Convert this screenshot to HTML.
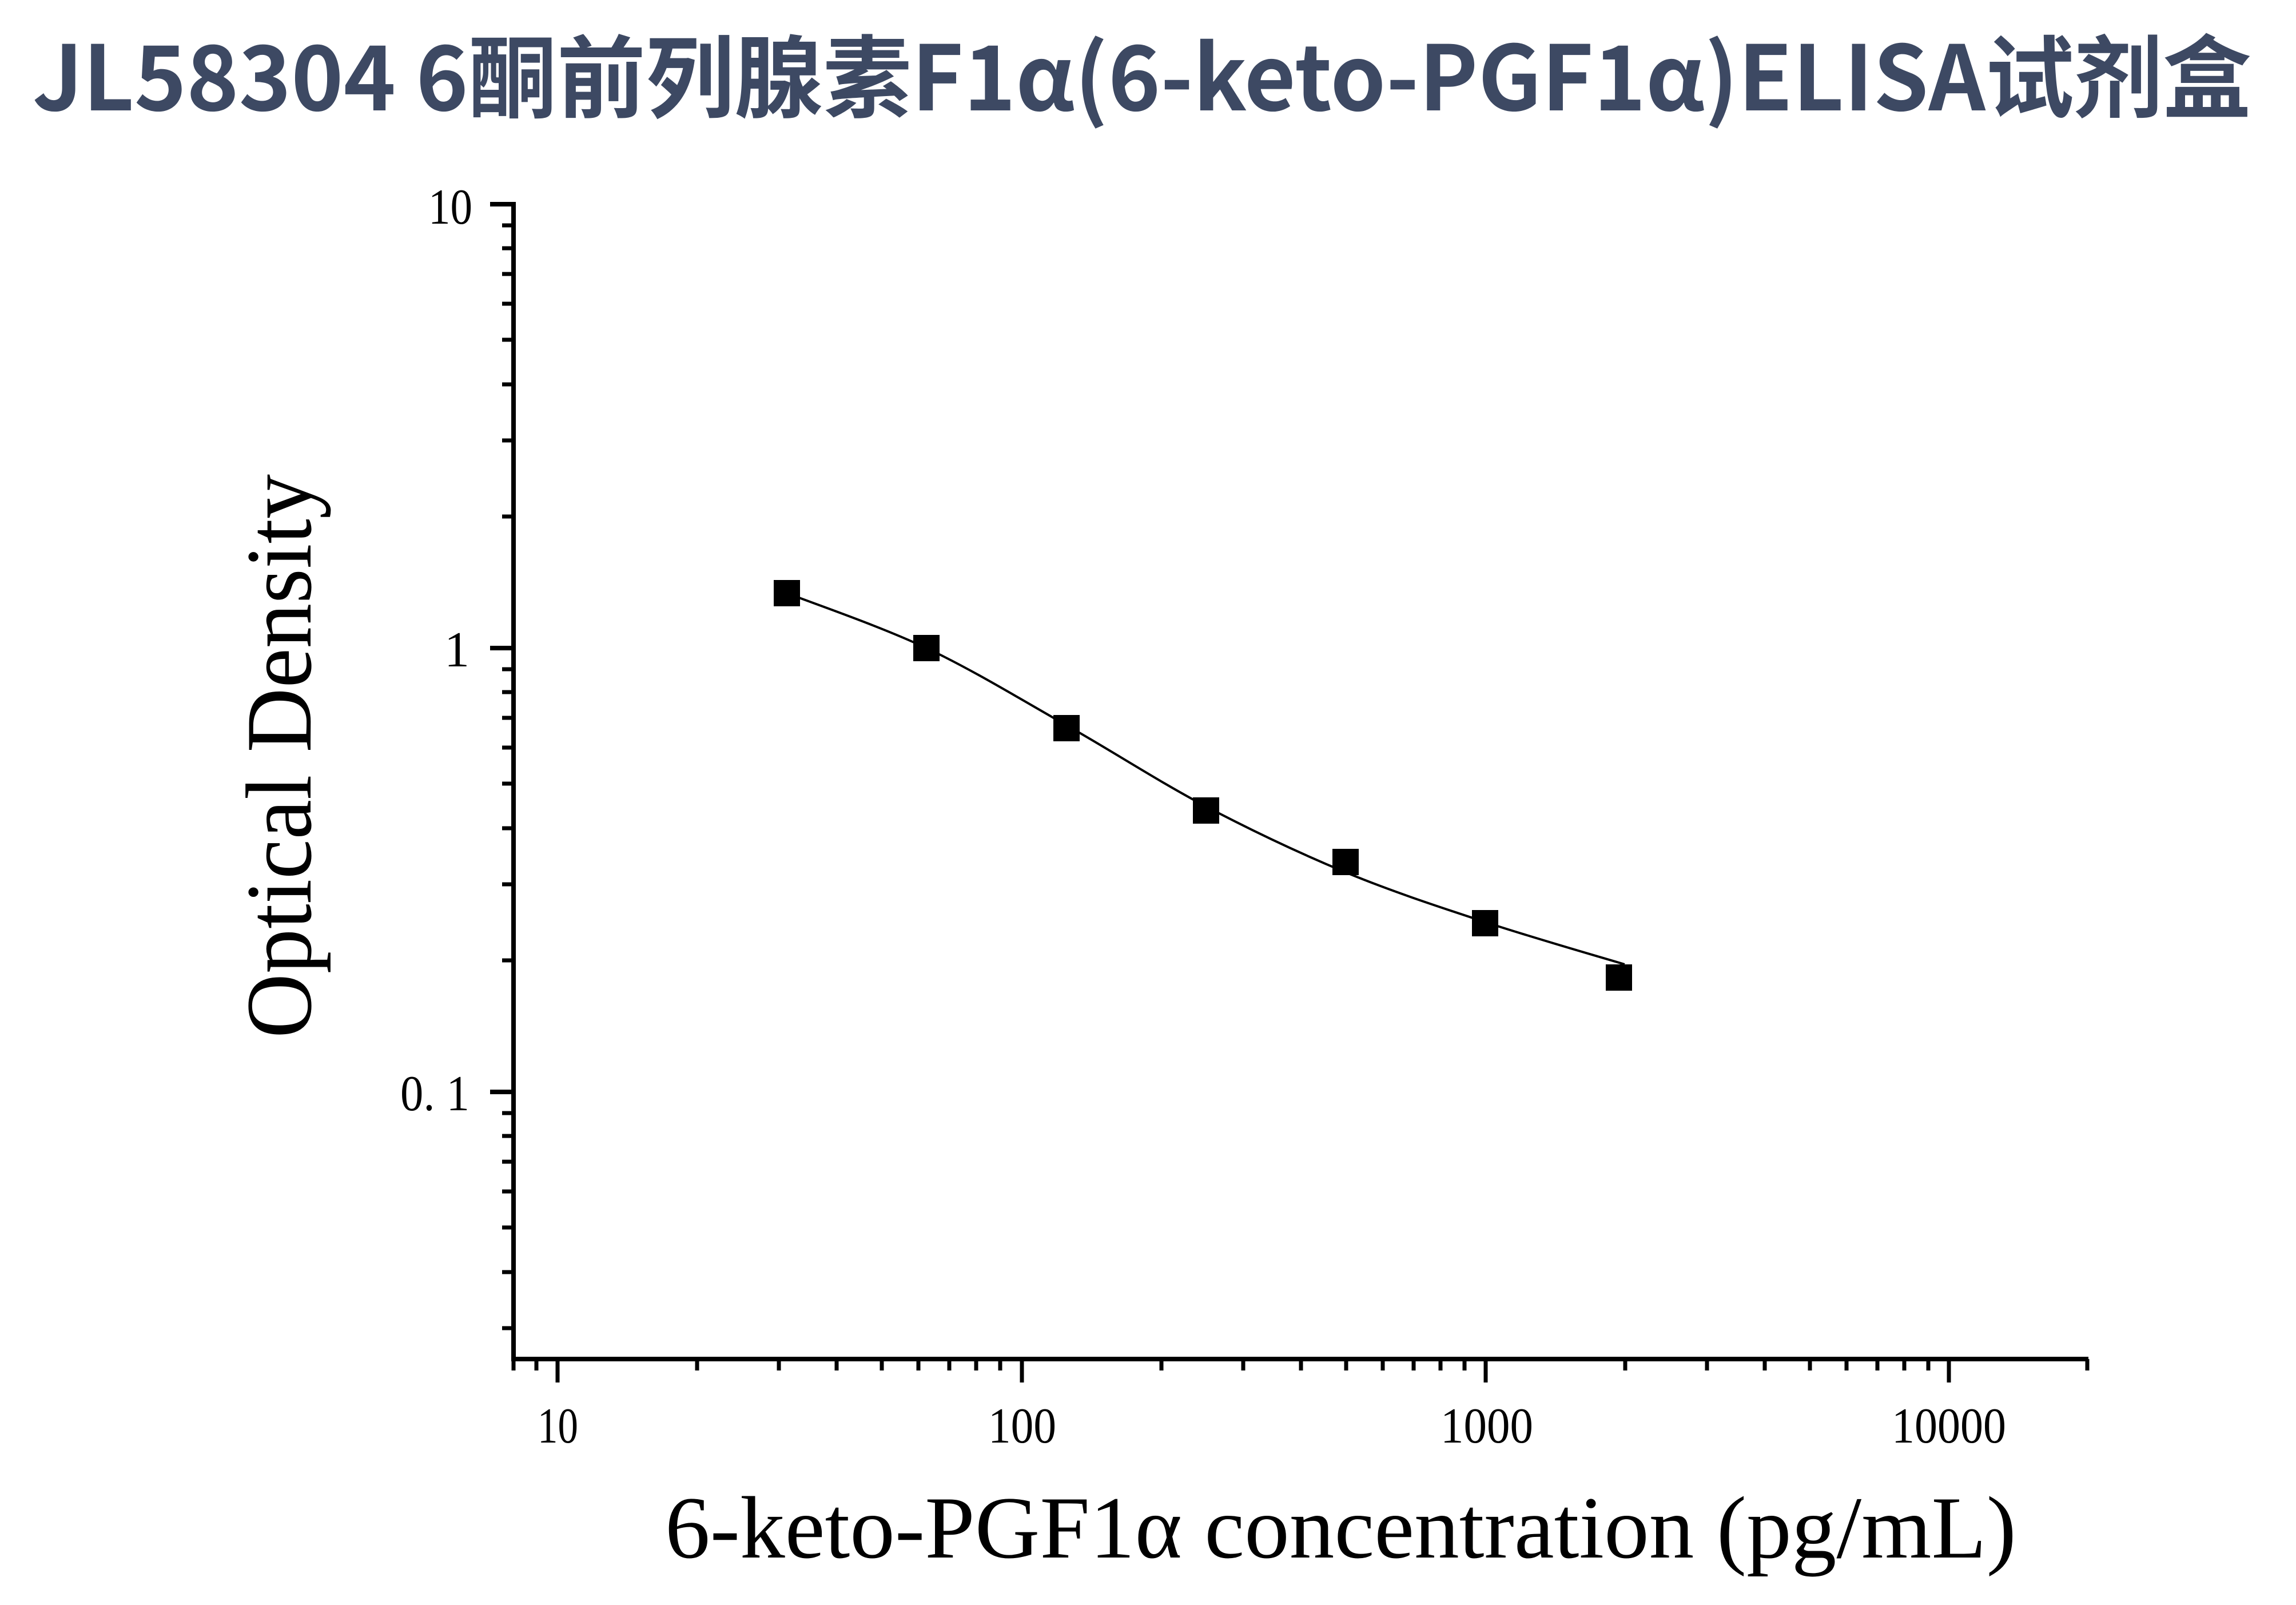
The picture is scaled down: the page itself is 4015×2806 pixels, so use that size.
<!DOCTYPE html>
<html><head><meta charset="utf-8"><style>html,body{margin:0;padding:0;background:#fff}svg{display:block}</style></head>
<body>
<svg width="4015" height="2806" viewBox="0 0 4015 2806" xmlns="http://www.w3.org/2000/svg">
<rect width="4015" height="2806" fill="#fff"/>
<text x="57" y="193" font-family="'Noto Sans CJK SC', 'Liberation Sans', sans-serif" font-weight="bold" font-size="157" fill="#3d4963" textLength="3880" lengthAdjust="spacingAndGlyphs">JL58304 6酮前列腺素F1α(6-keto-PGF1α)ELISA试剂盒</text>
<g stroke="#000" fill="none">
<line x1="898" y1="353" x2="898" y2="2380" stroke-width="8"/>
<line x1="894" y1="2376" x2="3652" y2="2376" stroke-width="8"/>
<g stroke-width="8">
<line x1="857" y1="357" x2="898" y2="357"/>
<line x1="857" y1="1133" x2="898" y2="1133"/>
<line x1="857" y1="1909" x2="898" y2="1909"/>
</g>
<g stroke-width="7">
<line x1="878" y1="394" x2="898" y2="394"/><line x1="878" y1="434" x2="898" y2="434"/><line x1="878" y1="479" x2="898" y2="479"/><line x1="878" y1="531" x2="898" y2="531"/><line x1="878" y1="594" x2="898" y2="594"/><line x1="878" y1="672" x2="898" y2="672"/><line x1="878" y1="770" x2="898" y2="770"/><line x1="878" y1="903" x2="898" y2="903"/>
<line x1="878" y1="1170" x2="898" y2="1170"/><line x1="878" y1="1210" x2="898" y2="1210"/><line x1="878" y1="1255" x2="898" y2="1255"/><line x1="878" y1="1307" x2="898" y2="1307"/><line x1="878" y1="1370" x2="898" y2="1370"/><line x1="878" y1="1448" x2="898" y2="1448"/><line x1="878" y1="1546" x2="898" y2="1546"/><line x1="878" y1="1679" x2="898" y2="1679"/>
<line x1="878" y1="1946" x2="898" y2="1946"/><line x1="878" y1="1986" x2="898" y2="1986"/><line x1="878" y1="2031" x2="898" y2="2031"/><line x1="878" y1="2083" x2="898" y2="2083"/><line x1="878" y1="2146" x2="898" y2="2146"/><line x1="878" y1="2224" x2="898" y2="2224"/><line x1="878" y1="2322" x2="898" y2="2322"/>
</g>
<g stroke-width="7">
<line x1="975" y1="2376" x2="975" y2="2417"/><line x1="1787" y1="2376" x2="1787" y2="2417"/><line x1="2598" y1="2376" x2="2598" y2="2417"/><line x1="3408" y1="2376" x2="3408" y2="2417"/>
<line x1="898" y1="2376" x2="898" y2="2396"/><line x1="938" y1="2376" x2="938" y2="2396"/>
<line x1="1219" y1="2376" x2="1219" y2="2396"/><line x1="1362" y1="2376" x2="1362" y2="2396"/><line x1="1463" y1="2376" x2="1463" y2="2396"/><line x1="1542" y1="2376" x2="1542" y2="2396"/><line x1="1606" y1="2376" x2="1606" y2="2396"/><line x1="1660" y1="2376" x2="1660" y2="2396"/><line x1="1707" y1="2376" x2="1707" y2="2396"/><line x1="1749" y1="2376" x2="1749" y2="2396"/>
<line x1="2031" y1="2376" x2="2031" y2="2396"/><line x1="2174" y1="2376" x2="2174" y2="2396"/><line x1="2275" y1="2376" x2="2275" y2="2396"/><line x1="2354" y1="2376" x2="2354" y2="2396"/><line x1="2418" y1="2376" x2="2418" y2="2396"/><line x1="2472" y1="2376" x2="2472" y2="2396"/><line x1="2519" y1="2376" x2="2519" y2="2396"/><line x1="2561" y1="2376" x2="2561" y2="2396"/>
<line x1="2842" y1="2376" x2="2842" y2="2396"/><line x1="2985" y1="2376" x2="2985" y2="2396"/><line x1="3086" y1="2376" x2="3086" y2="2396"/><line x1="3165" y1="2376" x2="3165" y2="2396"/><line x1="3229" y1="2376" x2="3229" y2="2396"/><line x1="3283" y1="2376" x2="3283" y2="2396"/><line x1="3330" y1="2376" x2="3330" y2="2396"/><line x1="3372" y1="2376" x2="3372" y2="2396"/>
<line x1="3650" y1="2376" x2="3650" y2="2396"/>
</g>
<path d="M1376,1037 C1417,1053 1538.5,1094.5 1620,1133 C1701.5,1171.5 1783.5,1221.8 1865,1268 C1946.5,1314.2 2027.7,1367.2 2109,1410 C2190.3,1452.8 2271.7,1491.3 2353,1525 C2434.3,1558.7 2515.7,1585.2 2597,1612 C2678.3,1638.8 2800.3,1673.7 2841,1686" stroke-width="4"/>
</g>
<g fill="#000">
<rect x="1353" y="1014" width="46" height="46"/>
<rect x="1597" y="1110" width="46" height="46"/>
<rect x="1842" y="1250" width="46" height="46"/>
<rect x="2086" y="1394" width="46" height="46"/>
<rect x="2330" y="1484" width="46" height="46"/>
<rect x="2574" y="1591" width="46" height="46"/>
<rect x="2808" y="1686" width="46" height="46"/>
</g>
<g font-family="'Liberation Serif', serif" font-size="88" fill="#000">
<text x="826" y="391" text-anchor="end" textLength="77" lengthAdjust="spacingAndGlyphs">10</text>
<text x="821" y="1165" text-anchor="end">1</text>
<text x="821" y="1941" text-anchor="end" textLength="121" lengthAdjust="spacingAndGlyphs">0. 1</text>
<text x="940" y="2522" textLength="71" lengthAdjust="spacingAndGlyphs">10</text>
<text x="1728" y="2522" textLength="119" lengthAdjust="spacingAndGlyphs">100</text>
<text x="2519" y="2522" textLength="162" lengthAdjust="spacingAndGlyphs">1000</text>
<text x="3308" y="2522" textLength="200" lengthAdjust="spacingAndGlyphs">10000</text>
</g>
<text transform="translate(543,1815) rotate(-90)" font-family="'Liberation Serif', serif" font-size="164" fill="#000" textLength="986" lengthAdjust="spacingAndGlyphs">Optical Density</text>
<text x="1163" y="2723" font-family="'Liberation Serif', serif" font-size="155" fill="#000" textLength="2363" lengthAdjust="spacingAndGlyphs">6-keto-PGF1α concentration (pg/mL)</text>
</svg>
</body></html>
